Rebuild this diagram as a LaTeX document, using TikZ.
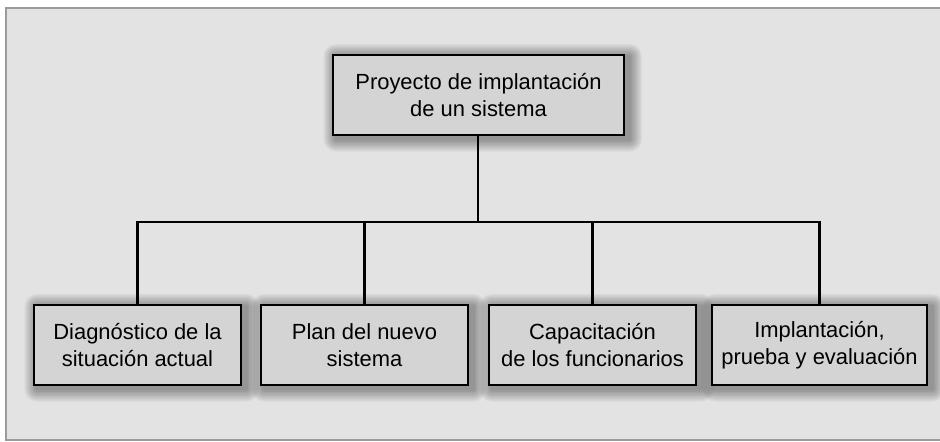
\documentclass[tikz,border=0pt]{standalone}
\usepackage{fontspec}
\setmainfont{Liberation Sans}
\usepackage{xcolor}
\usetikzlibrary{positioning, backgrounds}
\definecolor{panelGray}{RGB}{227,227,227}
\definecolor{frameGray}{RGB}{155,155,155}
\definecolor{boxGray}{RGB}{212,212,212}

% soft shadow behind a named box
\newcommand{\boxshade}[1]{%
  \foreach \r in {1,...,9}{
    \fill[black, opacity=0.045, rounded corners=\r pt]
      ([shift={(-\r pt+3pt,\r pt-2pt)}]#1.north west) rectangle
      ([shift={(\r pt+3pt,-\r pt-2pt)}]#1.south east);
  }}

\begin{document}
\begin{tikzpicture}[
  box/.style={rectangle, draw=black, line width=1.7pt, fill=boxGray,
              minimum height=2cm, minimum width=5.175cm, inner sep=0pt,
              font=\fontsize{15.6}{19.2}\selectfont, align=center},
  link/.style={line width=2.1pt, draw=black}
]
\useasboundingbox (0,0) rectangle (23.5,11.025);

\coordinate (hub) at (11.95,5.475);

% Root
\node[box, minimum width=7.275cm] (root) at (11.9625,8.65) {Proyecto de implantación\\de un sistema};
% Children
\node[box] (diag) at (3.4375,2.4) {Diagnóstico de la\\situación actual};
\node[box] (plan) at (9.1125,2.4) {Plan del nuevo\\sistema};
\node[box] (capa) at (14.8125,2.4) {Capacitación\\de los funcionarios};
\node[box, minimum width=5.375cm] (impl) at (20.4875,2.4) {Implantación,\\prueba y evaluación};

\begin{scope}[on background layer]
  % Background panel
  \fill[panelGray] (0.15,0.025) rectangle (24,10.825);
  \draw[frameGray, line width=1.4pt] (24,10.825) -- (0.15,10.825) -- (0.15,0.025) -- (24,0.025);
  % Shadows
  \boxshade{root}
  \boxshade{diag}
  \boxshade{plan}
  \boxshade{capa}
  \boxshade{impl}
  % Connectors
  \draw[link] (root.south -| hub) -- (hub);
  \draw[link] (hub) -| (diag);
  \draw[link] (hub) -| (plan);
  \draw[link] (hub) -| (capa);
  \draw[link] (hub) -| (impl);
\end{scope}

\end{tikzpicture}
\end{document}
